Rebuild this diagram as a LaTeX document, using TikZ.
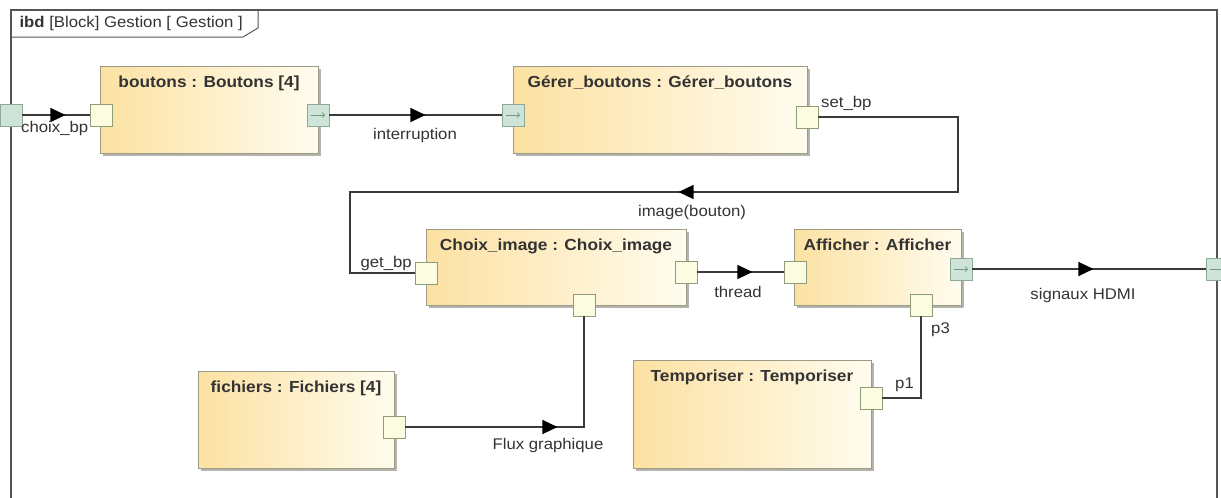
\documentclass[tikz,border=0pt]{standalone}
\usepackage{fontspec}
\setmainfont[FakeStretch=1.08]{Liberation Sans}
\usepackage{xcolor}
\usetikzlibrary{arrows.meta,shadows,decorations.markings}
\definecolor{blockleft}{HTML}{FCE1A2}
\definecolor{blockright}{HTML}{FFFCEE}
\definecolor{blockedge}{HTML}{9C9C86}
\definecolor{shadowgray}{HTML}{B4B4AC}
\definecolor{portfill}{HTML}{FBFCE0}
\definecolor{portedge}{HTML}{8E9C7A}
\definecolor{portgreen}{HTML}{CFE4D8}
\definecolor{portgreenedge}{HTML}{8EAA96}
\definecolor{portarrow}{HTML}{6E9A82}
\definecolor{linegray}{HTML}{3A3A3A}
\definecolor{framegray}{HTML}{555555}
\definecolor{labelgray}{HTML}{333333}
\newcommand\blocktitlefont{\bfseries\fontsize{16}{19}\selectfont}
\newcommand\connlabelfont{\fontsize{15.5}{18}\selectfont}

\begin{document}
\begin{tikzpicture}[x=1pt, y=-1pt,
        block/.style={draw=blockedge, line width=0.9pt, left color=blockleft, right color=blockright,
                      drop shadow={shadow xshift=3pt, shadow yshift=-3pt, fill=shadowgray, opacity=1}},
        blocktitle/.style={font=\blocktitlefont, text=labelgray, anchor=north, inner sep=6pt, yshift=-4pt},
        port/.style={draw=portedge, line width=0.9pt, fill=portfill, minimum size=22pt, inner sep=0pt},
        greenport/.style={port, fill=portgreen, draw=portgreenedge},
        outport/.style={greenport, path picture={
            \draw[portarrow, line width=0.7pt, -{Straight Barb[length=2.5pt, width=5pt]}]
              ([xshift=-7pt]path picture bounding box.center) -- ([xshift=7pt]path picture bounding box.center);}},
        conn/.style={draw=linegray, line width=1.2pt},
        flow/.style={postaction={decorate}, decoration={markings,
            mark=at position #1 with {\arrow{Triangle[length=15pt, width=14pt, color=black]}}}},
        lbl/.style={font=\connlabelfont, text=labelgray, inner sep=0pt},
    ]
    \useasboundingbox (0,0) rectangle (1221,498);

    % Frame with its title tab
    \draw[framegray, line width=1.4pt] (11,10) rectangle (1217,530);
    \draw[framegray, line width=1pt] (11,37) -- (243,37) -- (258,28) -- (258,10);
    \node[font=\connlabelfont, text=labelgray, anchor=west] (frametitle) at (16,23)
        {\textbf{ibd} [Block] Gestion [ Gestion ]};

    % Parts
    \node[block, minimum width=218pt, minimum height=87pt,
          label={[blocktitle]north:boutons : Boutons [4]}] (boutons) at (209,109.5) {};
    \node[block, minimum width=294pt, minimum height=87pt,
          label={[blocktitle]north:Gérer\_boutons : Gérer\_boutons}] (gerer) at (660,109.5) {};
    \node[block, minimum width=260pt, minimum height=76pt,
          label={[blocktitle]north:Choix\_image : Choix\_image}] (choix) at (556,267) {};
    \node[block, minimum width=167pt, minimum height=76pt,
          label={[blocktitle]north:Afficher : Afficher}] (afficher) at (877.5,267) {};
    \node[block, minimum width=238pt, minimum height=108pt,
          label={[blocktitle]north:Temporiser : Temporiser}] (tempo) at (752,414) {};
    \node[block, minimum width=196pt, minimum height=97pt,
          label={[blocktitle]north:fichiers : Fichiers [4]}] (fichiers) at (296,419.5) {};

    % Ports
    \node[greenport] (frameL) at (11,115) {};
    \node[outport] (frameR) at (1217,269) {};
    \node[port] (btnin) at (101,115) {};
    \node[outport] (btnout) at (318,115) {};
    \node[outport] (gerin) at (513,115) {};
    \node[port] (gerset) at (807,117) {};
    \node[port] (choixget) at (426,273) {};
    \node[port] (choixout) at (686,272) {};
    \node[port] (choixbot) at (584,305) {};
    \node[port] (affin) at (795,272) {};
    \node[outport] (affout) at (961,269) {};
    \node[port] (affbot) at (921,305) {};
    \node[port] (tempop1) at (871,398) {};
    \node[port] (fichout) at (394,427) {};

    % Connectors
    \coordinate (bendR) at (958,192);
    \coordinate (bendL) at (350,192);
    \draw[conn, flow=43pt] (frameL) -- (btnin);
    \draw[conn, flow=96pt] (btnout) -- (gerin);
    \draw[conn, flow=494pt] (gerset) -| (bendR) -- (bendL) |- (choixget);
    \draw[conn, flow=55pt] (choixout) -- (affin);
    \draw[conn, flow=121pt] (affout) -- (frameR);
    \draw[conn, flow=152pt] (fichout) -| (choixbot);
    \draw[conn] (affbot) |- (tempop1);

    % Connector labels
    \node[lbl, anchor=west] (lchoix) at (21,128) {choix\_bp};
    \node[lbl] (linterr) at (415,135) {interruption};
    \node[lbl, anchor=west] (lset) at (821,103) {set\_bp};
    \node[lbl] (limage) at (692,212) {image(bouton)};
    \node[lbl, anchor=east] (lget) at (412,263) {get\_bp};
    \node[lbl] (lthread) at (738,292) {thread};
    \node[lbl] (lhdmi) at (1083,295) {signaux HDMI};
    \node[lbl, anchor=west] (lp3) at (931,330) {p3};
    \node[lbl, anchor=west] (lp1) at (895,385) {p1};
    \node[lbl] (lflux) at (548,445) {Flux graphique};
\end{tikzpicture}
\end{document}
